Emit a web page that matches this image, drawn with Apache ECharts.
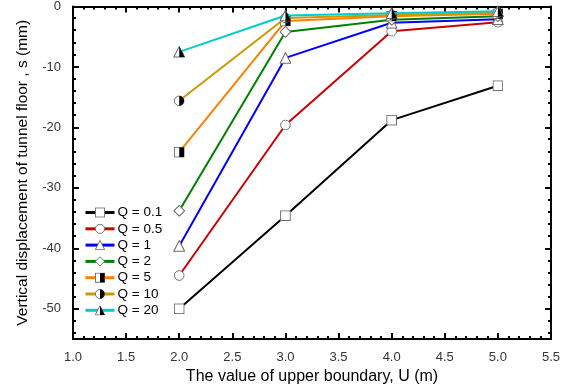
<!DOCTYPE html>
<html>
<head>
<meta charset="utf-8">
<script src="https://cdn.jsdelivr.net/npm/echarts@6/dist/echarts.min.js"></script>
<style>
  html, body { margin: 0; padding: 0; background: #fff; }
  #chart { width: 574px; height: 390px; }
</style>
</head>
<body>
<div id="chart"></div>
<script>
// Upper boundary U (m)
const boundaryU = [2.0, 3.0, 4.0, 5.0];

// Vertical displacement of tunnel floor s (mm) for each Q
const q01 = [-50.0, -34.6, -18.8, -13.1];
const q05 = [-44.5, -19.6, -4.1, -2.6];
const q1 = [-39.6, -8.5, -2.7, -2.1];
const q2 = [-33.8, -4.2, -2.2, -1.6];
const q5 = [-24.1, -2.4, -1.6, -1.2];
const q10 = [-15.6, -1.9, -1.4, -1.0];
const q20 = [-7.5, -1.5, -1.1, -0.8];

const seriesNames = ['Q = 0.1', 'Q = 0.5', 'Q = 1', 'Q = 2', 'Q = 5', 'Q = 10', 'Q = 20'];

const yMajorTicks = [0, -10, -20, -30, -40, -50];
const yMinorTicks = [-2, -4, -6, -8, -12, -14, -16, -18, -22, -24, -26, -28,
  -32, -34, -36, -38, -42, -44, -46, -48, -52, -54];

// Marker glyphs as small inline SVGs (open and half-filled shapes)
const stroke = '#6e6e6e';
function svgSymbol(body) {
  const svg = "<svg xmlns='http://www.w3.org/2000/svg' width='20' height='20' viewBox='0 0 10 10'>" + body + "</svg>";
  return 'image://data:image/svg+xml;charset=utf-8,' + encodeURIComponent(svg);
}
const sw = "stroke-width='0.9'";
const symSquare = svgSymbol(`<rect x='0.6' y='0.6' width='8.8' height='8.8' fill='#fff' stroke='${stroke}' ${sw}/>`);
const symCircle = svgSymbol(`<circle cx='5' cy='5' r='4.4' fill='#fff' stroke='${stroke}' ${sw}/>`);
const symTriangle = svgSymbol(`<polygon points='5,0.6 9.5,9.4 0.5,9.4' fill='#fff' stroke='${stroke}' ${sw}/>`);
const symDiamond = svgSymbol(`<polygon points='5,0.5 9.5,5 5,9.5 0.5,5' fill='#fff' stroke='${stroke}' ${sw}/>`);
const symHalfSquare = svgSymbol(`<rect x='0.6' y='0.6' width='8.8' height='8.8' fill='#fff' stroke='${stroke}' ${sw}/><rect x='5' y='0.6' width='4.4' height='8.8' fill='#000'/>`);
const symHalfCircle = svgSymbol(`<circle cx='5' cy='5' r='4.4' fill='#fff' stroke='${stroke}' ${sw}/><path d='M5,0.6 A4.4,4.4 0 0 1 5,9.4 Z' fill='#000'/>`);
const symHalfTriangle = svgSymbol(`<polygon points='5,0.6 9.5,9.4 0.5,9.4' fill='#fff' stroke='${stroke}' ${sw}/><polygon points='5,0.6 9.5,9.4 5,9.4' fill='#000'/>`);

const values = [q01, q05, q1, q2, q5, q10, q20];
const colors = ['#000000', '#cc0000', '#0000ff', '#008000', '#ff8000', '#cc9900', '#00cccc'];
const symbols = [symSquare, symCircle, symTriangle, symDiamond, symHalfSquare, symHalfCircle, symHalfTriangle];
const symbolSizes = [11, 11, 12, 12, 11, 11, 12];

const font = 'Liberation Sans, Arial, sans-serif';
const gridBox = { left: 73, right: 23, top: 6, bottom: 51 };

const series = values.map((vals, i) => ({
  name: seriesNames[i],
  type: 'line',
  xAxisIndex: 0,
  yAxisIndex: 0,
  data: boundaryU.map((u, k) => [u, vals[k]]),
  symbol: symbols[i],
  symbolSize: symbolSizes[i],
  showAllSymbol: true,
  lineStyle: { color: colors[i], width: 2 },
  itemStyle: { color: colors[i] },
  emphasis: { disabled: true },
  animation: false,
  z: 2 + i
}));

const hiddenX = (gridIndex, position) => ({
  type: 'value', gridIndex, position, min: 1, max: 5.5, show: false
});

const option = {
  backgroundColor: '#ffffff',
  animation: false,
  grid: [
    Object.assign({}, gridBox),
    Object.assign({}, gridBox)
  ],
  legend: {
    orient: 'vertical',
    left: 84,
    top: 205.5,
    padding: 0,
    itemWidth: 29,
    itemHeight: 13,
    itemGap: 2.3,
    selectedMode: false,
    lineStyle: { width: 3 },
    textStyle: { fontFamily: font, fontSize: 13.5, color: '#000', padding: [0, 0, 0, -2] },
    data: seriesNames
  },
  xAxis: [
    {
      type: 'value', gridIndex: 0, position: 'bottom',
      min: 1, max: 5.5, interval: 0.5,
      name: 'The value of upper boundary, U (m)',
      nameLocation: 'middle', nameGap: 29,
      nameTextStyle: { fontFamily: font, fontSize: 16, color: '#000' },
      axisLine: { show: true, onZero: false, lineStyle: { color: '#000', width: 2 } },
      axisTick: { show: true, inside: true, length: 6, lineStyle: { color: '#000', width: 2 } },
      minorTick: { show: true, splitNumber: 5, length: 3, lineStyle: { color: '#000', width: 2 } },
      axisLabel: { margin: 12, fontFamily: font, fontSize: 13, color: '#333',
        formatter: v => v.toFixed(1) },
      splitLine: { show: false }
    },
    {
      type: 'value', gridIndex: 0, position: 'top',
      min: 1, max: 5.5, interval: 0.5,
      axisLine: { show: true, onZero: false, lineStyle: { color: '#000', width: 2 } },
      axisTick: { show: true, inside: true, length: 6, lineStyle: { color: '#000', width: 2 } },
      minorTick: { show: true, splitNumber: 5, length: 3, lineStyle: { color: '#000', width: 2 } },
      axisLabel: { show: false },
      splitLine: { show: false }
    },
    hiddenX(1, 'bottom'),
    hiddenX(1, 'top')
  ],
  yAxis: [
    {
      type: 'value', gridIndex: 0, position: 'left',
      min: -55, max: 0,
      name: 'Vertical displacement of tunnel floor , s (mm)',
      nameLocation: 'middle', nameGap: 42,
      nameTextStyle: { fontFamily: font, fontSize: 15.5, color: '#000' },
      axisLine: { show: true, onZero: false, lineStyle: { color: '#000', width: 2 } },
      axisTick: { show: true, inside: true, length: 6, customValues: yMajorTicks,
        lineStyle: { color: '#000', width: 2 } },
      axisLabel: { margin: 12, fontFamily: font, fontSize: 13, color: '#333',
        customValues: yMajorTicks },
      splitLine: { show: false }
    },
    {
      type: 'value', gridIndex: 0, position: 'right',
      min: -55, max: 0,
      axisLine: { show: true, onZero: false, lineStyle: { color: '#000', width: 2 } },
      axisTick: { show: true, inside: true, length: 6, customValues: yMajorTicks,
        lineStyle: { color: '#000', width: 2 } },
      axisLabel: { show: false },
      splitLine: { show: false }
    },
    {
      type: 'value', gridIndex: 1, position: 'left',
      min: -55, max: 0,
      axisLine: { show: false },
      axisTick: { show: true, inside: true, length: 3, customValues: yMinorTicks,
        lineStyle: { color: '#000', width: 2 } },
      axisLabel: { show: false },
      splitLine: { show: false }
    },
    {
      type: 'value', gridIndex: 1, position: 'right',
      min: -55, max: 0,
      axisLine: { show: false },
      axisTick: { show: true, inside: true, length: 3, customValues: yMinorTicks,
        lineStyle: { color: '#000', width: 2 } },
      axisLabel: { show: false },
      splitLine: { show: false }
    }
  ],
  series: series
};

const chart = echarts.init(document.getElementById('chart'), null, { renderer: 'canvas' });
chart.setOption(option);
</script>
</body>
</html>
